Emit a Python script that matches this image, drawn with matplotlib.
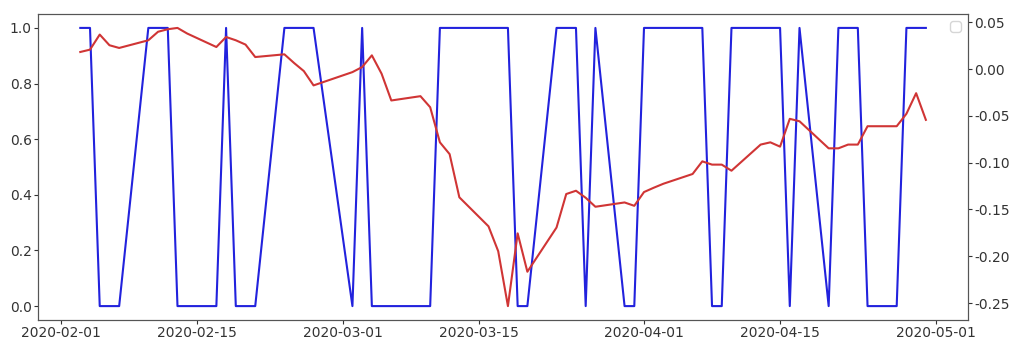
import pandas as pd
import matplotlib
matplotlib.use("Agg")
import matplotlib.pyplot as plt
import matplotlib.dates as mdates

plt.rcParams["axes.unicode_minus"] = False

# trading days, 2020-02-03 .. 2020-04-30 (no row for 02-28 in the source)
dates = pd.to_datetime([
    "2020-02-03", "2020-02-04", "2020-02-05", "2020-02-06", "2020-02-07",
    "2020-02-10", "2020-02-11", "2020-02-12", "2020-02-13", "2020-02-14",
    "2020-02-17", "2020-02-18", "2020-02-19", "2020-02-20", "2020-02-21",
    "2020-02-24", "2020-02-25", "2020-02-26", "2020-02-27",
    "2020-03-02", "2020-03-03", "2020-03-04", "2020-03-05", "2020-03-06",
    "2020-03-09", "2020-03-10", "2020-03-11", "2020-03-12", "2020-03-13",
    "2020-03-16", "2020-03-17", "2020-03-18", "2020-03-19", "2020-03-20",
    "2020-03-23", "2020-03-24", "2020-03-25", "2020-03-26", "2020-03-27",
    "2020-03-30", "2020-03-31", "2020-04-01", "2020-04-02", "2020-04-03",
    "2020-04-06", "2020-04-07", "2020-04-08", "2020-04-09", "2020-04-10",
    "2020-04-13", "2020-04-14", "2020-04-15", "2020-04-16", "2020-04-17",
    "2020-04-20", "2020-04-21", "2020-04-22", "2020-04-23", "2020-04-24",
    "2020-04-27", "2020-04-28", "2020-04-29", "2020-04-30",
])

# 0/1 signal (left axis)
signal = [
    1, 1, 0, 0, 0,
    1, 1, 1, 0, 0,
    0, 1, 0, 0, 0,
    1, 1, 1, 1,
    0, 1, 0, 0, 0,
    0, 0, 1, 1, 1,
    1, 1, 1, 0, 0,
    1, 1, 1, 0, 1,
    0, 0, 1, 1, 1,
    1, 1, 0, 0, 1,
    1, 1, 1, 0, 1,
    0, 1, 1, 1, 0,
    0, 1, 1, 1,
]

# cumulative return (right axis)
returns = [
    0.0182, 0.0207, 0.0368, 0.0254, 0.0225,
    0.0307, 0.0398, 0.0425, 0.0439, 0.0379,
    0.0235, 0.0342, 0.0307, 0.0261, 0.0128,
    0.0157, 0.0064, -0.0022, -0.0175,
    -0.0033, 0.0021, 0.0146, -0.0050, -0.0336,
    -0.0290, -0.0408, -0.0783, -0.0909, -0.1370,
    -0.1680, -0.1946, -0.2532, -0.1755, -0.2165,
    -0.1693, -0.1335, -0.1300, -0.1375, -0.1471,
    -0.1425, -0.1461, -0.1314, -0.1268, -0.1225,
    -0.1121, -0.0986, -0.1021, -0.1021, -0.1086,
    -0.0807, -0.0783, -0.0829, -0.0532, -0.0558,
    -0.0847, -0.0847, -0.0807, -0.0807, -0.0611,
    -0.0611, -0.0478, -0.0258, -0.0543,
]

fig = plt.figure(figsize=(10.11, 3.4), dpi=100)
# right spine pulled in a little so the right-hand labels are not clipped
ax = fig.add_axes([0.0376, 0.0588, 0.9200, 0.9000])
ax.plot(dates, signal, color="#2222dd", linewidth=1.5)

ax2 = ax.twinx()
ax2.plot(dates, returns, color="#d03535", linewidth=1.5)
ax2.legend(handles=[], loc="upper right")

ax.xaxis.set_major_locator(mdates.DayLocator(bymonthday=[1, 15]))
ax.xaxis.set_major_formatter(mdates.DateFormatter("%Y-%m-%d"))

for a in (ax, ax2):
    a.tick_params(colors="#333333", labelsize=10, length=3, pad=1.5)
    for s in a.spines.values():
        s.set_color("#555555")

fig.savefig("out.png", dpi=100)
